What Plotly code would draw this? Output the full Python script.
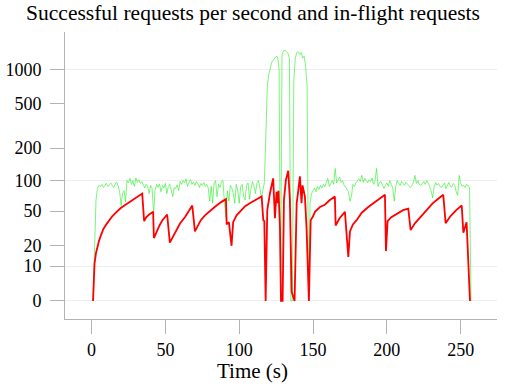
import math
import plotly.graph_objects as go

# ---------------- data ----------------
green_time = list(range(1, 258))
green_rps = [
    0, 20, 65, 84, 90, 88, 92, 86, 90, 94, 88, 92, 95, 90, 86, 93, 97, 89, 78, 57,
    75, 80, 62, 100, 95, 105, 92, 100, 88, 106, 96, 102, 94, 98, 90, 85, 92, 88, 75, 90,
    84, 47, 80, 92, 86, 93, 78, 90, 85, 94, 75, 88, 92, 80, 70, 86, 84, 91, 80, 98,
    92, 100, 95, 104, 88, 96, 102, 92, 97, 90, 98, 93, 86, 94, 90, 96, 88, 92, 85, 63,
    88, 60, 95, 100, 70, 92, 86, 98, 100, 60, 43, 80, 63, 90, 85, 75, 60, 92, 80, 60,
    88, 92, 70, 65, 90, 95, 66, 84, 98, 88, 75, 95, 100, 85, 68, 80, 95, 250, 700, 900,
    1050, 1150, 1200, 1250, 1300, 1280, 1000, 0, 1350, 1450, 1470, 1420, 1380, 1250, 0, 0, 800, 1250, 1400, 1420,
    1350, 1400, 1250, 1300, 1050, 700, 0, 60, 75, 80, 85, 78, 88, 82, 90, 85, 92, 87, 94, 105,
    88, 96, 100, 92, 130, 95, 102, 108, 96, 100, 90, 88, 82, 78, 63, 70, 92, 88, 95, 100,
    104, 98, 112, 96, 105, 100, 95, 102, 98, 106, 92, 100, 130, 88, 96, 98, 92, 84, 90, 95,
    88, 100, 92, 85, 63, 88, 100, 95, 90, 98, 94, 90, 96, 92, 88, 86, 90, 96, 112, 94,
    100, 92, 90, 94, 98, 92, 100, 95, 88, 80, 68, 86, 96, 90, 94, 88, 86, 92, 95, 84,
    90, 96, 88, 87, 94, 90, 78, 72, 112, 95, 88, 90, 86, 92, 90, 85, 0,
]

red_time = [
    1, 1.5, 2, 3, 4, 5, 6, 7, 8, 10, 12, 14, 17, 20, 23, 26, 29, 32, 34.3,
    35.6, 37, 39, 41.7, 42.2, 44, 46, 48, 51.2, 53, 55, 57.6, 60, 63.2, 66, 68.2,
    70, 72, 74, 76.8, 81.3, 84, 88, 91, 91.5, 93, 94.8, 95.9, 98.2, 101, 104, 108, 112, 115.2,
    116.3, 117, 117.9, 118.5, 119, 120.8, 123, 124.2, 125.3, 125.9, 126.6, 127.6, 128.3, 129.4,
    130.3, 131.6, 133.2, 134.3, 135.5, 137.5, 138.9, 140, 141.1, 142.2, 142.9, 144.5, 145.6, 147.2,
    148.4, 150, 151.3, 154.7, 158, 161, 164.8, 165.3, 168, 171.6, 172.8, 173.9, 175, 177, 179.5,
    183, 187.4, 192, 195, 198.7, 199.4, 200.5, 203, 207.7, 211, 214.5, 216.1, 219, 223.6, 227,
    231, 235, 238.2, 239.8, 243, 247, 250.7, 251.8, 253, 254, 256.3,
]
red_inflight = [
    0, 6, 11, 16, 20, 23, 26, 29, 32, 36, 40, 44, 49, 54, 58, 62, 66, 70, 75,
    39, 43, 46, 49, 25, 30, 35, 40, 46, 22, 26, 31, 37, 43, 51, 57,
    30, 35, 40, 45, 52, 56, 62, 66, 36, 38, 20, 38, 45, 50, 56, 61, 66, 70,
    40, 39, 0, 22, 51, 75, 105, 42, 78, 60, 80, 33, 0, 0,
    65, 101, 124, 65, 2, 0, 60, 80, 110, 60, 90, 70, 33, 0,
    40, 44, 49, 55, 58, 64, 70, 35, 42, 49, 26, 14, 30, 36, 40,
    48, 55, 62, 67, 73, 17, 39, 43, 48, 51, 53, 31, 37, 45, 52,
    60, 67, 73, 37, 44, 51, 57, 29, 33, 38, 0,
]

tick_values = [0, 10, 20, 50, 100, 200, 500, 1000]
tick_labels = ["0", "10", "20", "50", "100", "200", "500", "1000"]
grid_values = [0, 10, 100, 1000]
x_ticks = [0, 50, 100, 150, 200, 250]

OFFSET = 10  # symmetric-log style axis: plotted on log10(value + 10)

title_text = "Successful requests per second and in-flight requests"
x_title = "Time (s)"

FONT = "Liberation Serif"
AXIS_GRAY = "#b3b3b3"

fig = go.Figure()
fig.add_trace(go.Scatter(
    x=green_time, y=[v + OFFSET for v in green_rps], mode="lines",
    line=dict(color="#22ee22", width=0.6), showlegend=False,
))
fig.add_trace(go.Scatter(
    x=red_time, y=[v + OFFSET for v in red_inflight], mode="lines",
    line=dict(color="#ff0000", width=1.8), showlegend=False,
))
fig.add_trace(go.Scatter(x=[None], y=[None], yaxis="y2", showlegend=False))

ylo, yhi = 6.98, 2124

fig.update_layout(
    width=506, height=386,
    margin=dict(l=65, r=9, t=32, b=67, autoexpand=False),
    paper_bgcolor="white", plot_bgcolor="white",
    font=dict(family=FONT, size=18, color="black"),
    title=dict(text=title_text, xref="container", x=0.5, xanchor="center",
               yref="container", y=0.968, yanchor="middle",
               font=dict(family=FONT, size=21.5, color="black")),
    xaxis=dict(
        range=[-18, 274.6], tickvals=x_ticks, ticks="outside", ticklen=14,
        tickcolor=AXIS_GRAY, tickwidth=1, showline=True, linecolor=AXIS_GRAY,
        linewidth=1, showgrid=False, zeroline=False, ticklabelstandoff=0,
        automargin=False, tickfont=dict(family=FONT, size=18),
    ),
    yaxis=dict(
        type="log", range=[math.log10(ylo), math.log10(yhi)],
        tickvals=[v + OFFSET for v in tick_values], ticktext=tick_labels,
        ticks="outside", ticklen=14, tickcolor=AXIS_GRAY, tickwidth=1,
        showline=True, linecolor=AXIS_GRAY, linewidth=1, showgrid=False,
        zeroline=False, ticklabelstandoff=5, automargin=False,
        tickfont=dict(family=FONT, size=18),
    ),
    yaxis2=dict(
        type="log", range=[math.log10(ylo), math.log10(yhi)], overlaying="y",
        side="left", tickvals=[v + OFFSET for v in grid_values],
        showticklabels=False, ticks="", showgrid=True, gridcolor="#eeeeee",
        gridwidth=1, showline=False, zeroline=False, automargin=False,
    ),
    annotations=[dict(
        text=x_title, xref="paper", yref="paper", x=0.433, y=-0.18,
        xanchor="center", yanchor="middle", showarrow=False,
        font=dict(family=FONT, size=21, color="black"),
    )],
)

fig.write_html("out.html", config={"displayModeBar": False},
               post_script="document.body.style.margin='0';")
